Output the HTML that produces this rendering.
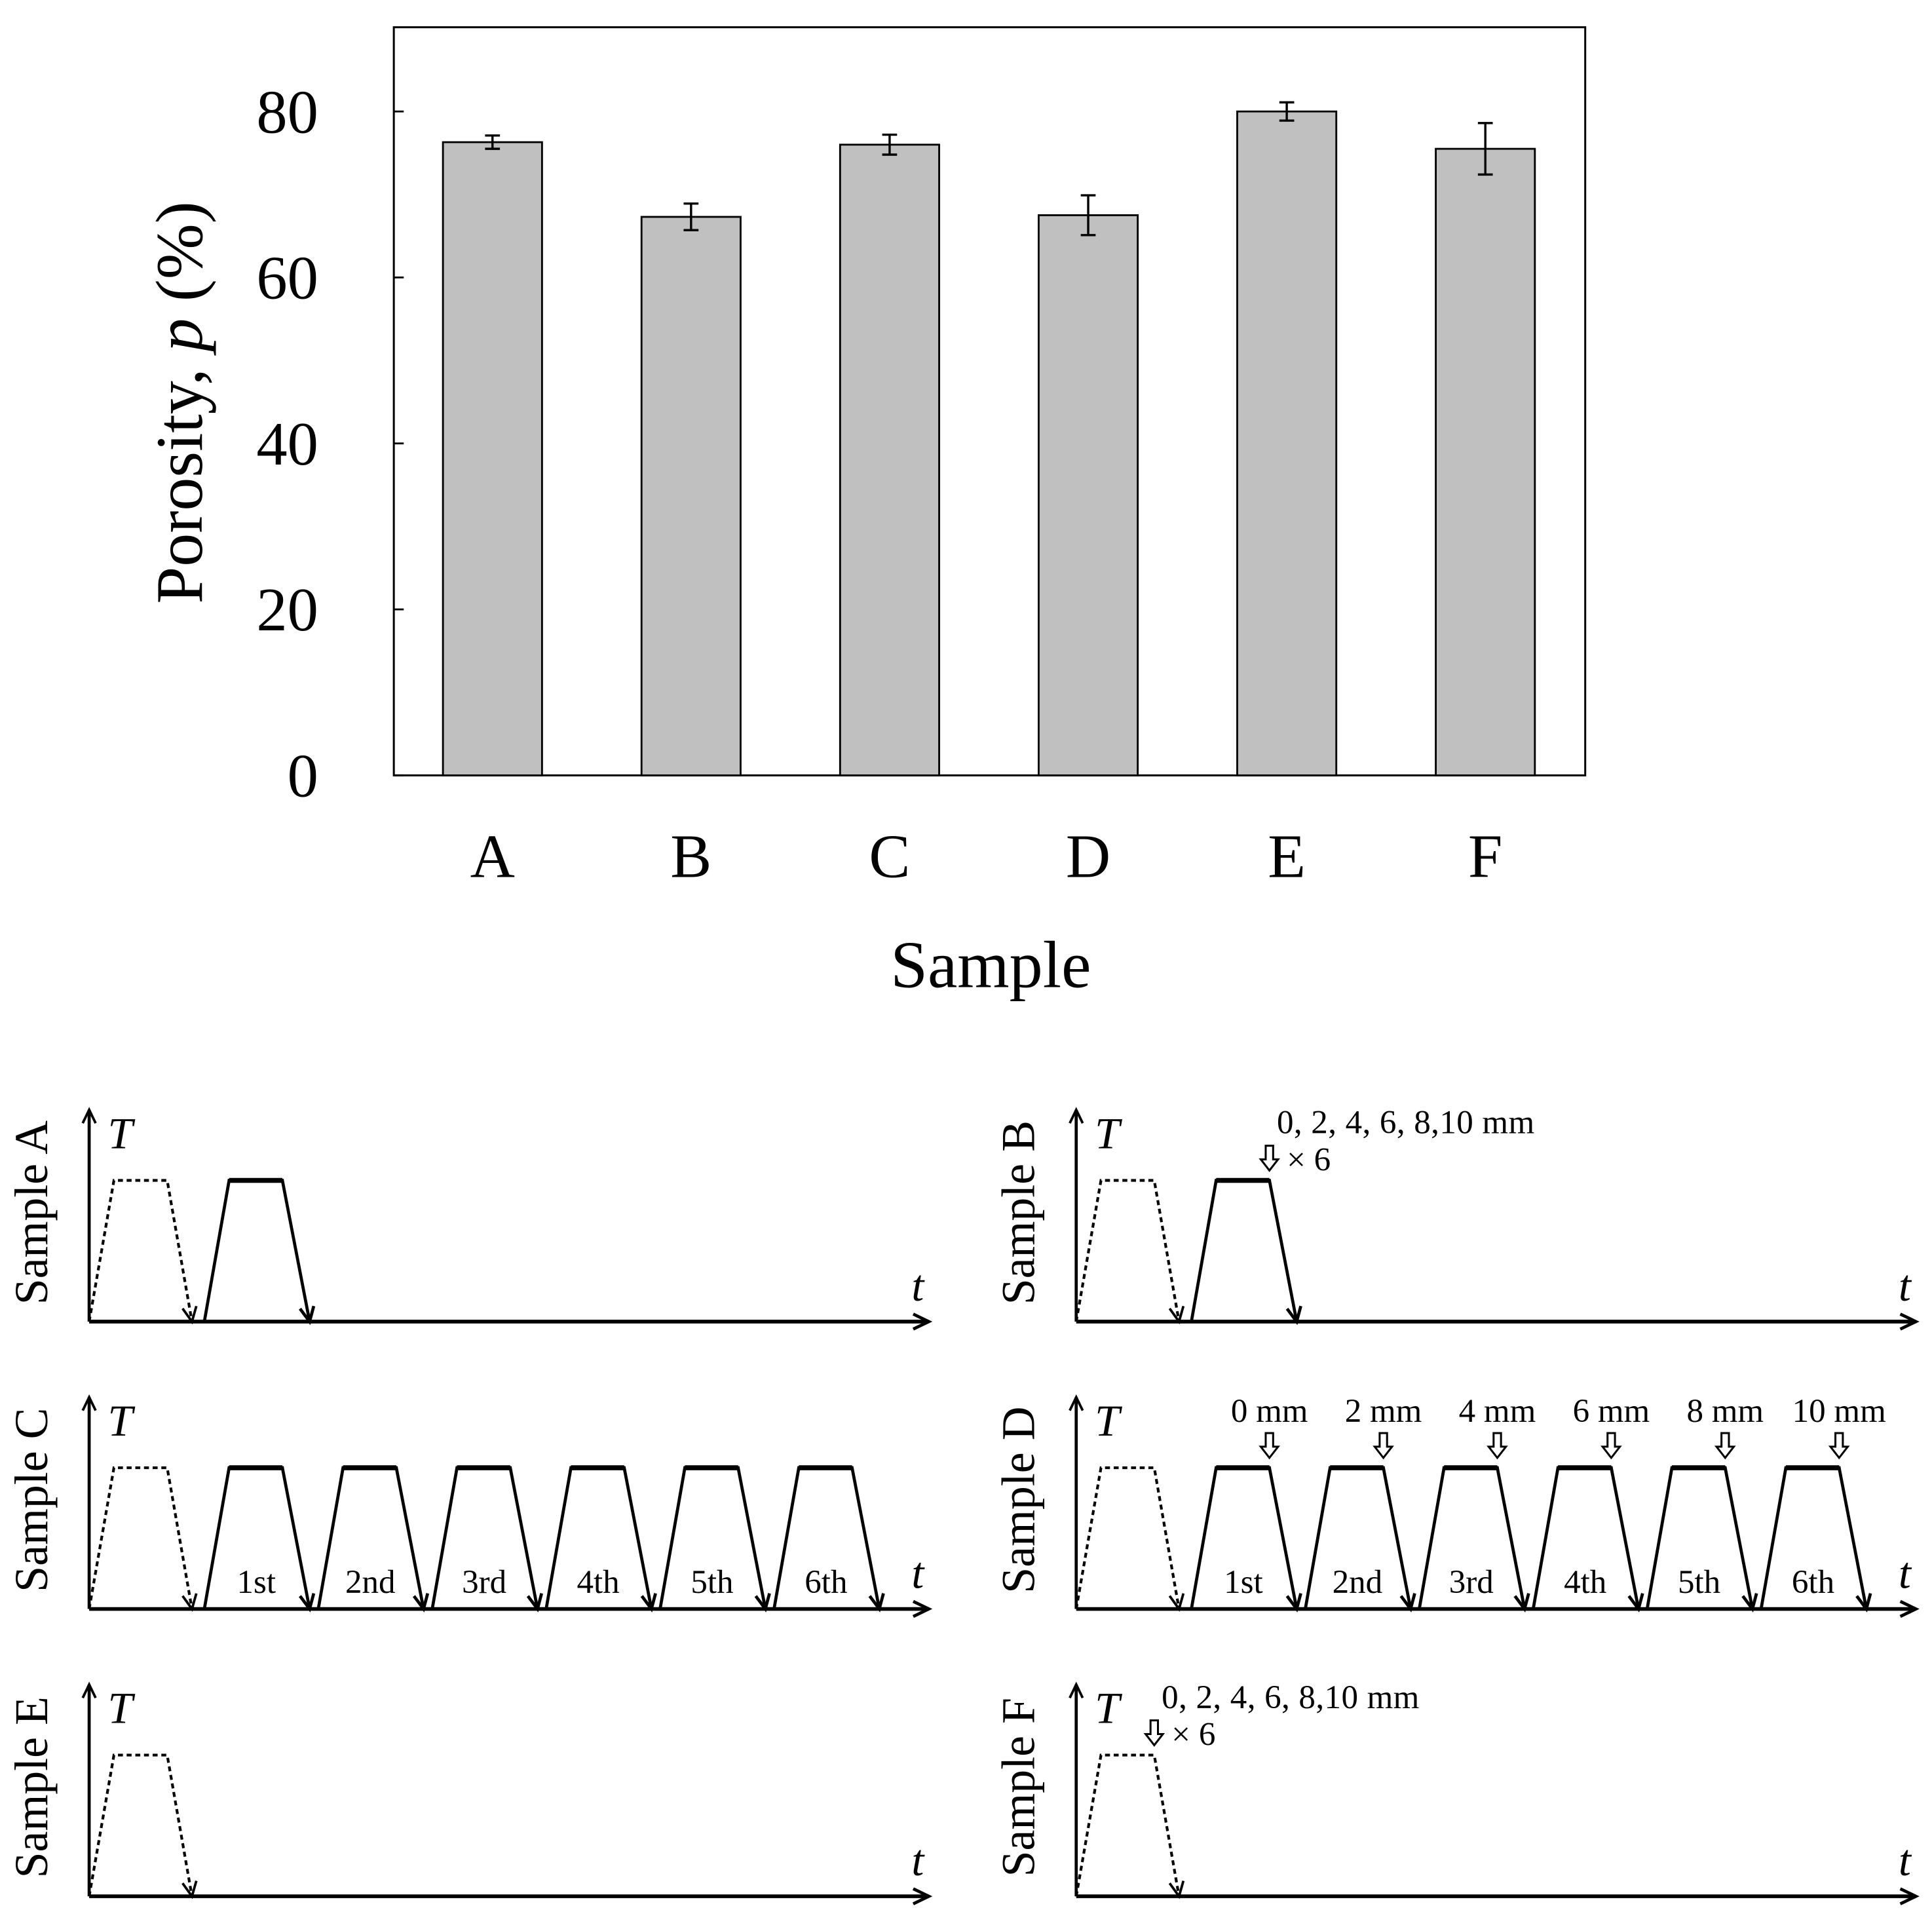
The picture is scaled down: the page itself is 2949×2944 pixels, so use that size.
<!DOCTYPE html>
<html><head><meta charset="utf-8">
<style>
html,body{margin:0;padding:0;background:#fff;}
svg{display:block;font-family:"Liberation Serif",serif;}
</style></head>
<body>
<svg id="fig" width="2949" height="2944" viewBox="0 0 1560 1557.4" preserveAspectRatio="none" xmlns="http://www.w3.org/2000/svg">
  <g id="chart"></g>
  <g id="diagrams"></g>
</svg>
<script>
const categories = ["A","B","C","D","E","F"];
const porosityValues = [76.3, 67.3, 76.0, 67.5, 80.0, 75.5];
const porosityErrors = [0.8, 1.6, 1.2, 2.4, 1.1, 3.1];
const yTicks = [0, 20, 40, 60, 80];

const NS = "http://www.w3.org/2000/svg";
function mk(parent, tag, attrs, text){
  const e = document.createElementNS(NS, tag);
  for (const k in attrs) e.setAttribute(k, attrs[k]);
  if (text !== undefined) e.textContent = text;
  parent.appendChild(e);
  return e;
}
const chart = document.getElementById("chart");
const PL=318, PR=1280, PT=22, PB=626;
const yScale = v => PB - v*(626-90)/80;
const bandW = (PR-PL)/6;
const xCenter = i => PL + bandW*(i+0.5) - 0.5;
const barW = 80;

let e;
e = mk(chart,"rect",{x:PL,y:PT,width:PR-PL,height:PB-PT,fill:"none",stroke:"#000","stroke-width":1.6});



yTicks.forEach(t=>{
  const y=yScale(t);
  let tk = mk(chart,"line",{x1:PL,x2:PL+8,y1:y,y2:y,stroke:"#000","stroke-width":1.5});
  
  
  let lb = mk(chart,"text",{x:257,y:y+17,"text-anchor":"end","font-size":50},String(t));
  
  
});

categories.forEach((c,i)=>{
  const cx=xCenter(i), v=porosityValues[i], er=porosityErrors[i];
  let b = mk(chart,"rect",{x:cx-barW/2,y:yScale(v),width:barW,height:PB-yScale(v),fill:"#c0c0c0",stroke:"#000","stroke-width":1.5});
  
  
  const g = mk(chart,"g",{stroke:"#000","stroke-width":1.8});
  
  
  mk(g,"line",{x1:cx,x2:cx,y1:yScale(v+er),y2:yScale(v-er)});
  mk(g,"line",{x1:cx-6,x2:cx+6,y1:yScale(v+er),y2:yScale(v+er)});
  mk(g,"line",{x1:cx-6,x2:cx+6,y1:yScale(v-er),y2:yScale(v-er)});
  let xl = mk(chart,"text",{x:cx,y:708,"text-anchor":"middle","font-size":50},c);
  
  
});

e = mk(chart,"text",{x:800,y:797,"text-anchor":"middle","font-size":54},"Sample");


e = mk(chart,"text",{transform:"translate(163,325) rotate(-90)","text-anchor":"middle","font-size":54});


e.innerHTML = 'Porosity, <tspan font-style="italic">p</tspan> (%)';

const dg = document.getElementById("diagrams");
const panels = [
  {name:"A", ox:72, base:1067, n:1, ordinals:false, arrowsEach:false, note:null},
  {name:"B", ox:869, base:1067, n:1, ordinals:false, arrowsEach:false, note:"last"},
  {name:"C", ox:72, base:1299, n:6, ordinals:true, arrowsEach:false, note:null},
  {name:"D", ox:869, base:1299, n:6, ordinals:true, arrowsEach:true, note:null},
  {name:"E", ox:72, base:1531, n:0, ordinals:false, arrowsEach:false, note:null},
  {name:"F", ox:869, base:1531, n:0, ordinals:false, arrowsEach:false, note:"dotted"}
];
const ordinals=["1st","2nd","3rd","4th","5th","6th"];
const mmLabels=["0 mm","2 mm","4 mm","6 mm","8 mm","10 mm"];
function arrowHead(g,x1,y1,x2,y2,len,sw){
  const a=Math.atan2(y2-y1,x2-x1), s=0.45;
  const d=`M${x2-len*Math.cos(a-s)},${y2-len*Math.sin(a-s)} L${x2},${y2} L${x2-len*Math.cos(a+s)},${y2-len*Math.sin(a+s)}`;
  mk(g,"path",{d:d,fill:"none",stroke:"#000","stroke-width":sw});
}
function hollowArrow(g,x,yTop){
  const d=`M${x-3},${yTop} L${x+3},${yTop} L${x+3},${yTop+11} L${x+7},${yTop+11} L${x},${yTop+20} L${x-7},${yTop+11} L${x-3},${yTop+11} Z`;
  mk(g,"path",{d:d,fill:"#fff",stroke:"#000","stroke-width":1.6});
}
panels.forEach(p=>{
  const g = mk(dg,"g",{});
  
  
  const ox=p.ox, b=p.base, top=b-171, plat=b-114;
  mk(g,"line",{x1:ox,y1:b,x2:ox,y2:top,stroke:"#000","stroke-width":2.5});
  arrowHead(g,ox,b,ox,top,12,2);
  mk(g,"line",{x1:ox,y1:b,x2:ox+678,y2:b,stroke:"#000","stroke-width":3});
  arrowHead(g,ox,b,ox+678,b,14,2.5);
  let t1 = mk(g,"text",{x:ox+15,y:top+31,"font-size":36,"font-style":"italic"},"T");
  
  
  let t2 = mk(g,"text",{x:ox+664,y:b-17,"font-size":36,"font-style":"italic"},"t");
  
  
  let sl = mk(g,"text",{transform:`translate(${ox-34},${b-88}) rotate(-90)`,"text-anchor":"middle","font-size":38},"Sample "+p.name);
  
  
  mk(g,"path",{d:`M${ox},${b} L${ox+20},${plat} L${ox+63},${plat} L${ox+83},${b}`,fill:"none",stroke:"#000","stroke-width":2.2,"stroke-dasharray":"4,3"});
  arrowHead(g,ox+63,plat,ox+83,b,13,2);
  const period=92;
  for(let i=0;i<p.n;i++){
    const s=ox+93+i*period;
    mk(g,"path",{d:`M${s},${b} L${s+20},${plat} L${s+63},${plat} L${s+85},${b}`,fill:"none",stroke:"#000","stroke-width":2.5});
    mk(g,"line",{x1:s+20,y1:plat,x2:s+63,y2:plat,stroke:"#000","stroke-width":4});
    arrowHead(g,s+63,plat,s+85,b,13,2.5);
    if(p.ordinals){
      let o = mk(g,"text",{x:s+42,y:b-13,"text-anchor":"middle","font-size":27},ordinals[i]);
      
      
    }
    if(p.arrowsEach){
      hollowArrow(g,s+63,plat-28);
      let m = mk(g,"text",{x:s+63,y:plat-37,"text-anchor":"middle","font-size":27},mmLabels[i]);
      
      
    }
  }
  if(p.note){
    const ax = p.note==="last" ? ox+93+63 : ox+63;
    hollowArrow(g,ax,plat-28);
    let n1 = mk(g,"text",{x:ax+6,y:plat-38,"font-size":27,"textLength":208},"0, 2, 4, 6, 8,10 mm");
    
    
    let n2 = mk(g,"text",{x:ax+14,y:plat-8,"font-size":27},"× 6");
    
    
  }
});
</script>
</body></html>
